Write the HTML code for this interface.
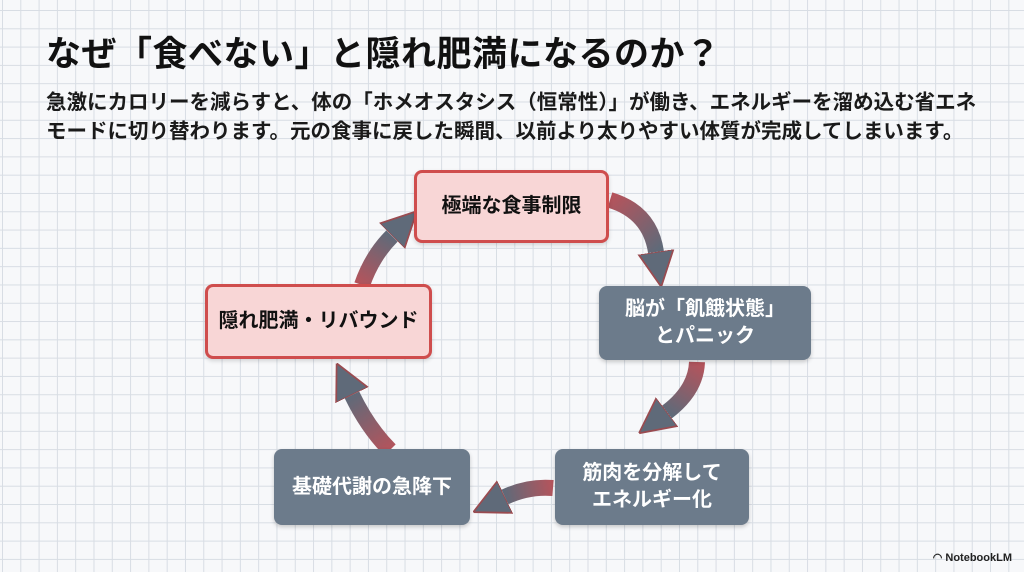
<!DOCTYPE html>
<html><head><meta charset="utf-8"><style>
html,body{margin:0;padding:0}
body{width:1024px;height:572px;overflow:hidden;position:relative;font-family:"Liberation Sans","Noto Sans CJK JP",sans-serif;
background-color:#f7f8fa;
background-image:linear-gradient(#d8dde4 1px,transparent 1px),linear-gradient(90deg,#d8dde4 1px,transparent 1px);
background-size:18.3px 18.3px;background-position:2px 10px;}
.t{position:absolute;left:46px;top:26px;font-size:35px;font-weight:bold;color:#111;letter-spacing:0.5px;white-space:nowrap}
.p{position:absolute;left:46px;top:88px;font-size:20.5px;font-weight:bold;color:#1a1a1a;line-height:29px;white-space:nowrap}
.b{position:absolute;display:flex;align-items:center;justify-content:center;text-align:center;font-weight:bold;font-size:20px;line-height:27px;box-sizing:border-box;border-radius:8px}
.r{background:#f8d6d6;border:3px solid #cf4d4d;color:#111;box-shadow:0 2px 4px rgba(0,0,0,.15)}
.g{background:#6c7b8b;color:#fff;box-shadow:0 2px 4px rgba(0,0,0,.2)}
.nl{position:absolute;right:12px;bottom:8px;font-size:11px;color:#222;font-weight:bold}
svg{position:absolute;left:0;top:0}
</style></head><body>
<div class="t">なぜ「食べない」と隠れ肥満になるのか？</div>
<div class="p">急激にカロリーを減らすと、体の「ホメオスタシス（恒常性）」が働き、エネルギーを溜め込む省エネ<br>モードに切り替わります。元の食事に戻した瞬間、以前より太りやすい体質が完成してしまいます。</div>
<svg width="1024" height="572">
<defs>
<marker id="h" viewBox="0 0 10 10" refX="0" refY="5" markerWidth="2.2" markerHeight="2.4" orient="auto" markerUnits="strokeWidth"><path d="M0,0 L10,5 L0,10 z" fill="#5f6a79" stroke="#9a4b50" stroke-width="0.5"/></marker>
<linearGradient id="g1" gradientUnits="userSpaceOnUse" x1="610" y1="200" x2="656" y2="252"><stop offset="0" stop-color="#b4545c"/><stop offset="1" stop-color="#5f6a79"/></linearGradient>
<linearGradient id="g2" gradientUnits="userSpaceOnUse" x1="697" y1="362" x2="667" y2="412"><stop offset="0" stop-color="#b4545c"/><stop offset="1" stop-color="#5f6a79"/></linearGradient>
<linearGradient id="g3" gradientUnits="userSpaceOnUse" x1="553" y1="488" x2="505" y2="497"><stop offset="0" stop-color="#b4545c"/><stop offset="1" stop-color="#5f6a79"/></linearGradient>
<linearGradient id="g4" gradientUnits="userSpaceOnUse" x1="390" y1="450" x2="352" y2="395"><stop offset="0" stop-color="#b4545c"/><stop offset="1" stop-color="#5f6a79"/></linearGradient>
<linearGradient id="g5" gradientUnits="userSpaceOnUse" x1="362" y1="285" x2="392" y2="236"><stop offset="0" stop-color="#b4545c"/><stop offset="1" stop-color="#5f6a79"/></linearGradient>
</defs>
<g fill="none" stroke-width="16">
<path d="M610,200 Q650,212 656,252" stroke="url(#g1)" marker-end="url(#h)"/>
<path d="M697,362 Q696,390 667,412" stroke="url(#g2)" marker-end="url(#h)"/>
<path d="M553,488 Q528,486 505,497" stroke="url(#g3)" marker-end="url(#h)"/>
<path d="M390,450 Q368,428 352,395" stroke="url(#g4)" marker-end="url(#h)"/>
<path d="M362,285 Q372,256 392,236" stroke="url(#g5)" marker-end="url(#h)"/>
</g>
</svg>
<div class="b r" style="left:414px;top:170px;width:195px;height:73px">極端な食事制限</div>
<div class="b g" style="left:599px;top:286px;width:212px;height:74px">脳が「飢餓状態」<br>とパニック</div>
<div class="b g" style="left:555px;top:449px;width:194px;height:76px">筋肉を分解して<br>エネルギー化</div>
<div class="b g" style="left:274px;top:449px;width:196px;height:76px">基礎代謝の急降下</div>
<div class="b r" style="left:205px;top:284px;width:227px;height:75px">隠れ肥満・リバウンド</div>
<div class="nl">◠ NotebookLM</div>
</body></html>
